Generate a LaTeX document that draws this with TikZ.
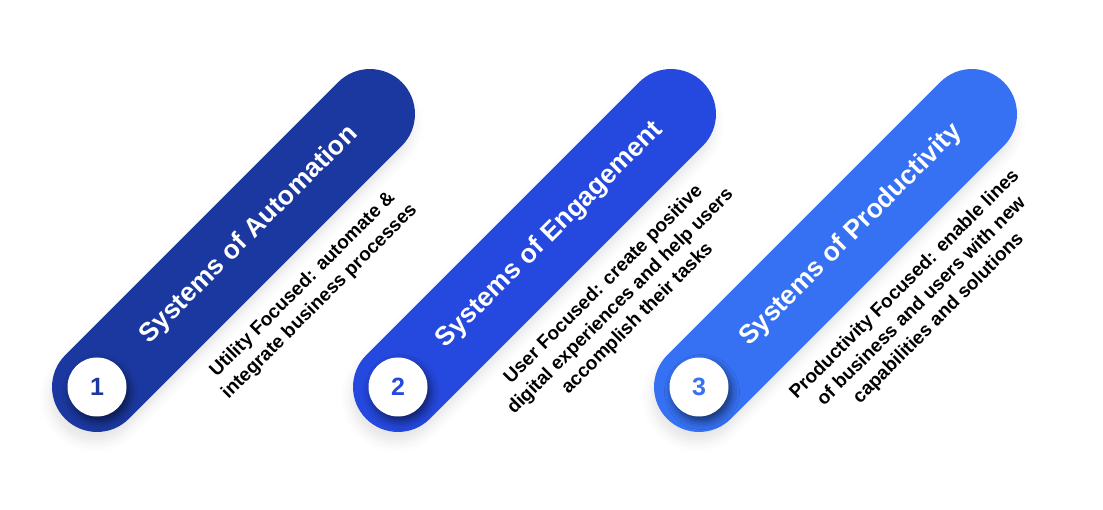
\documentclass[tikz,border=0pt]{standalone}
\usepackage{fontspec}
\setmainfont{Liberation Sans}
\usetikzlibrary{shapes.misc,shadows.blur}
\definecolor{A}{RGB}{27,56,160}
\definecolor{E}{RGB}{37,72,222}
\definecolor{P}{RGB}{54,113,243}
\def\Xbase{97}
\def\Ybase{387}
\def\Xstep{301}
\def\Half{136.5}

\begin{document}
\begin{tikzpicture}[x=1pt,y=-1pt,
    pill/.style={rounded rectangle,minimum height=90pt,minimum width=476pt,inner sep=0pt,rotate=45,
        blur shadow={shadow xshift=-2pt,shadow yshift=-10pt,shadow blur radius=10pt,shadow opacity=10}},
    badge/.style={circle,fill=white,minimum size=59pt,inner sep=0pt,font=\bfseries\fontsize{25}{30}\selectfont,
        blur shadow={shadow xshift=3pt,shadow yshift=-5pt,shadow blur radius=8pt,shadow opacity=55}},
    title/.style={white,rotate=45,font=\bfseries\fontsize{26.5}{32}\selectfont},
    desc/.style={rotate=45,anchor=north,align=center,font=\bfseries\fontsize{19}{24}\selectfont}]
    \path[use as bounding box] (0,0) rectangle (1103,510);
    \foreach \N/\C/\Title/\Desc in {
        1/A/{Systems of Automation}/{Utility Focused: automate \&\\integrate business processes},
        2/E/{Systems of Engagement}/{User Focused: create positive\\digital experiences and help users\\accomplish their tasks},
        3/P/{Systems of Productivity}/{Productivity Focused: enable lines\\of business and users with new\\capabilities and solutions}} {
        \coordinate (B\N) at ({\Xbase+(\N-1)*\Xstep},\Ybase);
        \node[pill,fill=\C] (pill\N) at ([shift={(\Half,-\Half)}]B\N) {};
        \node[badge,text=\C] (badge\N) at (B\N) {\N};
        \node[title] (title\N) at ([shift={(152,-152)}]B\N) {\Title};
        \node[desc] (desc\N) at ([shift={(197,-111)}]B\N) {\Desc};
    }
\end{tikzpicture}
\end{document}
